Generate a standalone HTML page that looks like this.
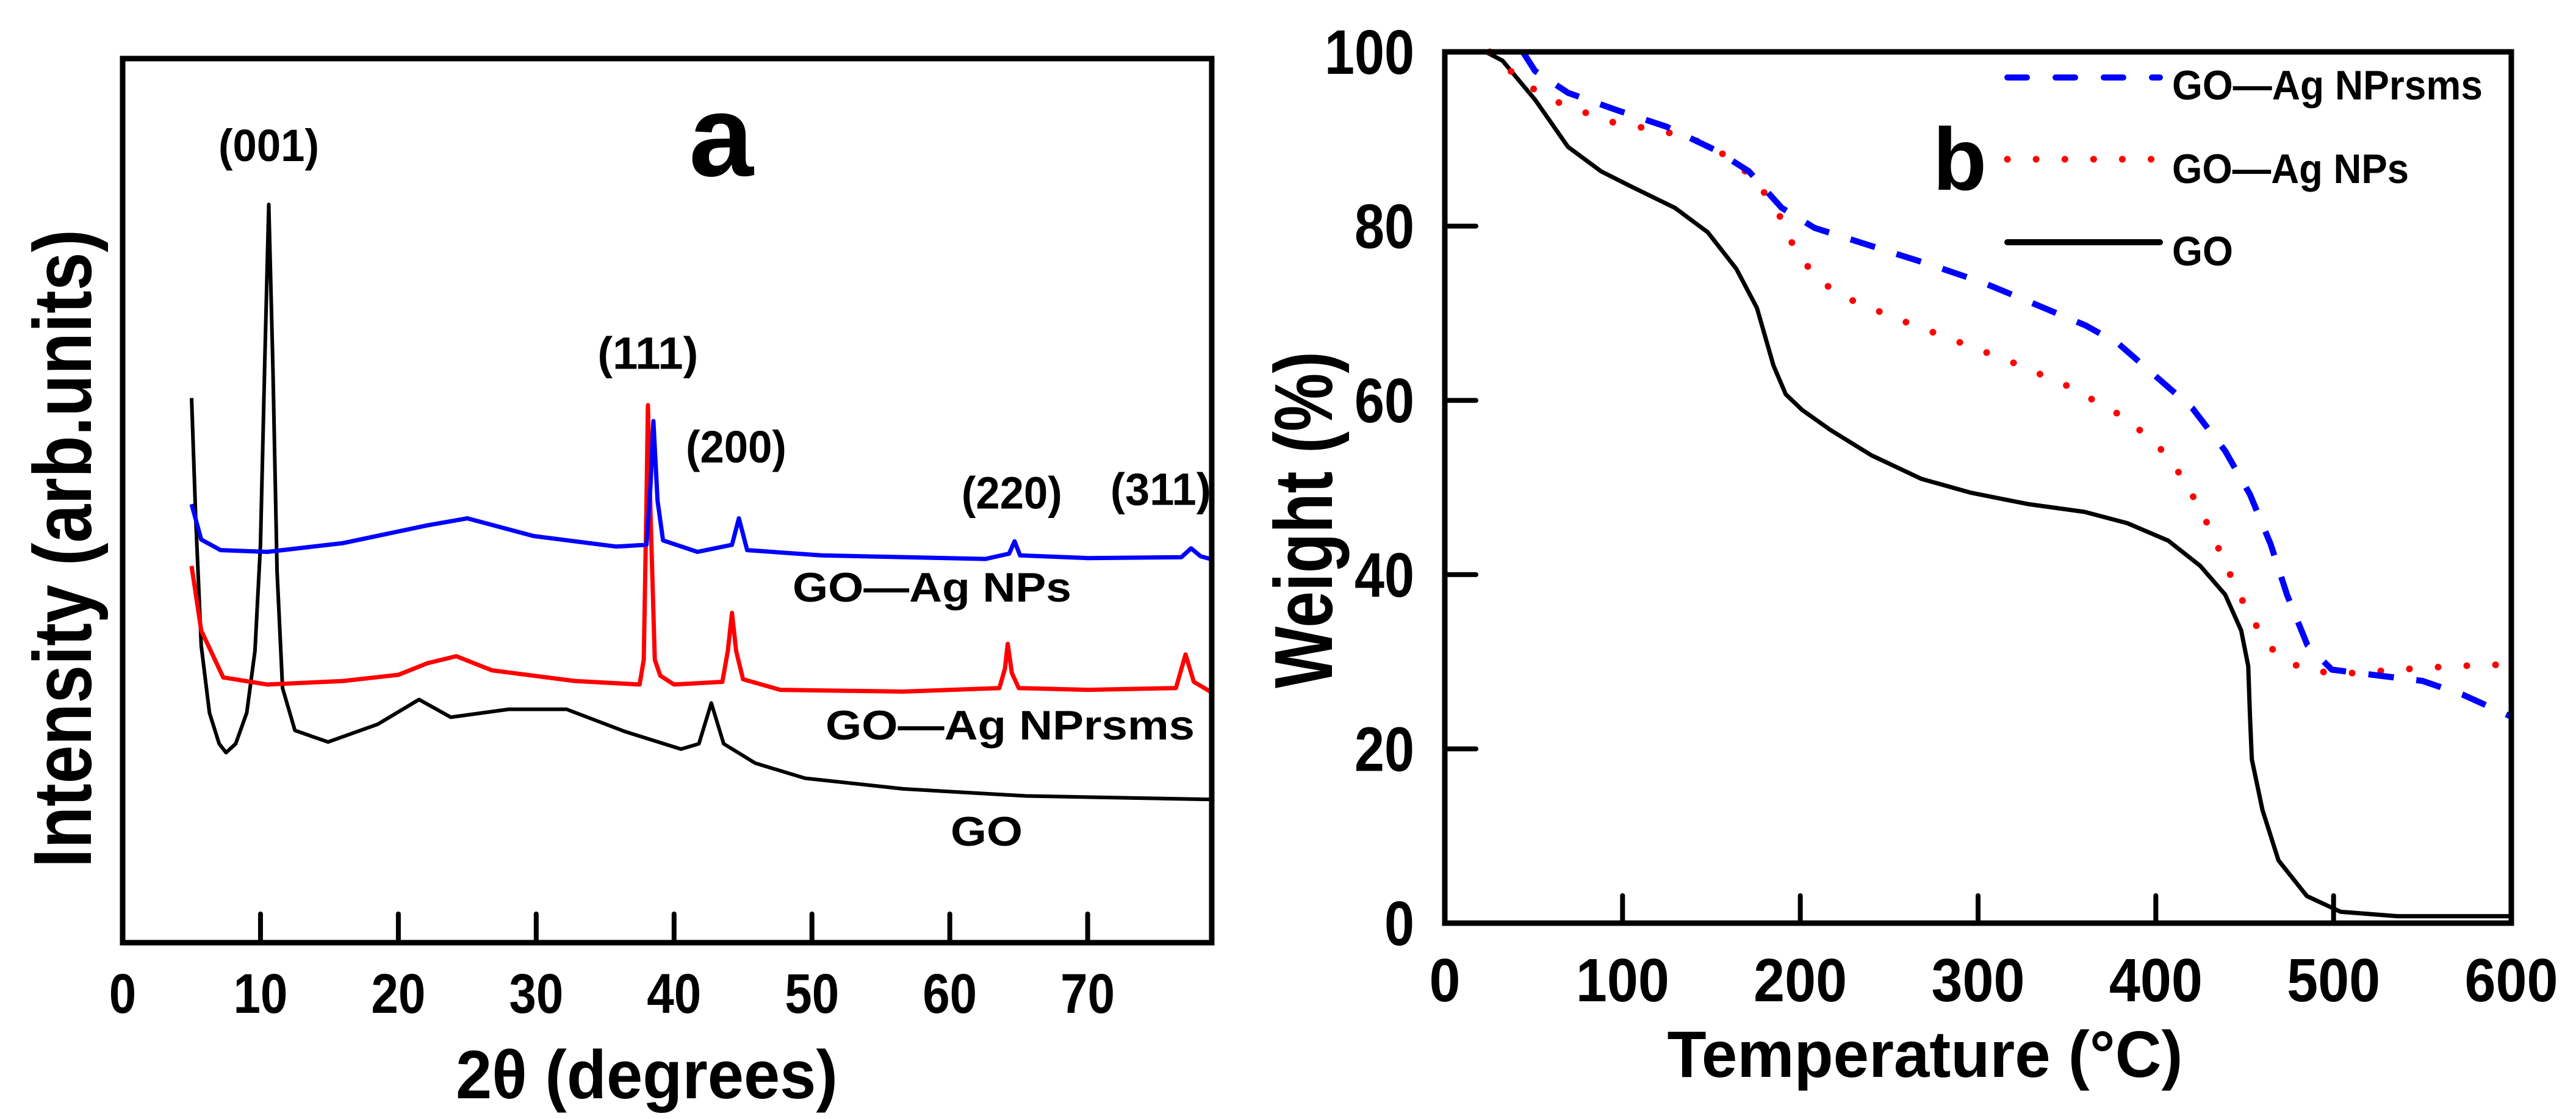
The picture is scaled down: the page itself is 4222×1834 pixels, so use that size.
<!DOCTYPE html>
<html><head><meta charset="utf-8"><title>XRD and TGA of GO and GO-Ag NPs</title>
<style>html,body{margin:0;padding:0;background:#fff}svg{display:block}text{font-family:"Liberation Sans",Arial,sans-serif;font-weight:bold;fill:#000}</style>
</head><body>
<svg id="fig" xmlns="http://www.w3.org/2000/svg" width="4222" height="1834" viewBox="0 0 4222 1834">
<rect width="4222" height="1834" fill="#fff"/>
<g id="pa"></g>
<g id="pb"></g>
</svg>
<script>
// ---- Panel a data (2θ degrees, arbitrary intensity 0-100) ----
const xrdTicks = [0,10,20,30,40,50,60,70];
const goX = [5.0,5.3,5.7,6.3,7.0,7.5,8.2,9.0,9.6,10.0,10.3,10.6,10.9,11.2,11.6,12.5,14.9,18.5,21.5,23.8,28,32.2,36.4,40.5,41.8,42.7,43.6,45.9,49.5,56.6,65.5,78.9];
const goY = [61.6,48,33.6,26,22.5,21.5,22.5,26,33,45,65,83.5,65,42,28.8,24,22.7,24.7,27.5,25.5,26.4,26.4,23.9,21.9,22.5,27.1,22.5,20.3,18.6,17.4,16.6,16.2];
const rsmsX = [5.0,5.7,7.3,10.5,16,20,22.1,24.2,26.8,32.8,37.5,37.8,38.0,38.1,38.3,38.6,39.0,40,43.5,43.9,44.2,44.5,45,47.7,56.6,63.6,64.0,64.2,64.5,65,70,76.4,77.1,77.7,78.9];
const rsmsY = [42.6,35.3,30.0,29.2,29.6,30.3,31.6,32.4,30.8,29.6,29.2,32,50,60.8,48,32,30.2,29.2,29.5,33,37.3,33,29.8,28.6,28.4,28.8,31,33.8,30.5,28.8,28.6,28.8,32.6,29.5,28.4];
const npsX = [5.0,5.7,7.1,10.5,16,22.1,25,29.8,35.8,38.0,38.3,38.5,38.8,39.2,41.7,44.2,44.7,45.3,50.7,62.6,64.3,64.7,65.1,70,76.8,77.5,78.2,78.9];
const npsY = [49.6,45.6,44.4,44.2,45.2,47.2,48.0,46.0,44.8,45,52,59.0,50,45.5,44.2,45,48.0,44.4,43.8,43.4,44,45.4,43.8,43.5,43.6,44.6,43.7,43.4];
const peakLabels = ["(001)","(111)","(200)","(220)","(311)"];
const peakPos = [10.6,38.1,44.5,64.5,75.3];
const peakInt = [90.2,66.7,56.1,50.9,51.3];

// ---- Panel b data (temperature °C, weight %) ----
const tgaXTicks = [0,100,200,300,400,500,600];
const tgaYTicks = [0,20,40,60,80,100];
const tgaGoT = [23,32.4,50.8,69.3,87.8,106.3,129.4,147.9,164,175.6,184.9,191.8,201,217,240,268,296,328,360,384,407,425,439,448,452,453,454,460,469,485,504,536,600];
const tgaGoW = [100,99,94.5,89.1,86.3,84.4,82.1,79.3,75.1,70.6,64,60.7,58.9,56.6,53.7,51,49.4,48.1,47.2,45.9,43.9,41,37.7,33.6,29.5,23.7,18.8,13,7.2,3.1,1.3,0.8,0.8];
const tgaNpsT = [25.4,43.9,60,92.4,124.8,143,161.8,175.6,187.2,196.4,208,221.8,254,286.6,318.9,351,383.6,402,416,429.9,441.4,453,466.8,483,503.8,536,568,600];
const tgaNpsW = [100,96.5,94.5,92,90.8,89.7,87.7,85,81.7,77.6,74.3,72.1,69.4,66.9,64.4,61.6,57.9,54.6,50.9,45.5,40.2,35.2,31.1,29.1,28.6,29.1,29.5,29.7];
const tgaRsmsT = [43.9,50.8,69.3,97,124.8,152.5,171,189.5,208,235.7,272.7,303,332.5,360.5,379,402,420.6,439,453,464.6,473.8,485.3,499,522,550,573,600];
const tgaRsmsW = [100,97.8,95.3,93.3,91.4,88.7,86.3,82.1,79.8,78,75.6,73.5,71,68.6,66.5,62.4,59.1,54.2,49.2,43.5,37.7,31.9,29.1,28.5,27.8,26.2,23.7];

const NS = "http://www.w3.org/2000/svg";
function mk(parent, tag, attrs){const e=document.createElementNS(NS,tag);for(const k in attrs)e.setAttribute(k,attrs[k]);parent.appendChild(e);return e;}
function txt(parent, s, attrs){const e=mk(parent,'text',attrs);e.textContent=s;return e;}

// ---------- Panel A ----------
const A = {l:201,r:1986,t:96,b:1545,xmin:0,xmax:79,ymin:0,ymax:100};
const ax = v => A.l + (v-A.xmin)/(A.xmax-A.xmin)*(A.r-A.l);
const ay = v => A.b - (v-A.ymin)/(A.ymax-A.ymin)*(A.b-A.t);
const pa = document.getElementById('pa');
function series(g, xs, ys, fx, fy, attrs, name){
  const d = xs.map((x,i)=>(i?'L':'M')+fx(x).toFixed(1)+' '+fy(ys[i]).toFixed(1)).join(' ');
  const p = mk(g,'path',Object.assign({d:d,fill:'none','stroke-linejoin':'round'},attrs));
  
  
  return p;
}
series(pa, goX, goY, ax, ay, {stroke:'#000','stroke-width':6}, 'series-go-xrd');
series(pa, rsmsX, rsmsY, ax, ay, {stroke:'#ff0000','stroke-width':7}, 'series-go-ag-nprsms-xrd');
series(pa, npsX, npsY, ax, ay, {stroke:'#0000ff','stroke-width':7}, 'series-go-ag-nps-xrd');

const fa = mk(pa,'rect',{x:A.l,y:A.t,width:A.r-A.l,height:A.b-A.t,fill:'none',stroke:'#000','stroke-width':9});


xrdTicks.forEach(v=>{
  if(v>0){const t=mk(pa,'line',{x1:ax(v),x2:ax(v),y1:A.b,y2:A.b-47,stroke:'#000','stroke-width':8,'stroke-linecap':'round'});
  
  }
  const lab = txt(pa,String(v),{x:ax(v),y:1660,'font-size':92,'text-anchor':'middle',textLength:(String(v).length*44.5),lengthAdjust:'spacingAndGlyphs'});
  
  
});
peakLabels.forEach((s,i)=>{
  const e = txt(pa,s,{x:ax(peakPos[i]),y:ay(peakInt[i])+26,'font-size':74,'text-anchor':'middle',textLength:165,lengthAdjust:'spacingAndGlyphs'});
  
  
});
</script>
<script>
// static labels for panel a
(function(){
const pa=document.getElementById('pa');
function t(s,a,name){const e=document.createElementNS("http://www.w3.org/2000/svg",'text');for(const k in a)e.setAttribute(k,a[k]);e.textContent=s;pa.appendChild(e);


}
t('a',{x:1182,y:288,'font-size':190,'text-anchor':'middle'},'panel-label-a');
t('GO—Ag NPs',{x:1299,y:986,'font-size':68,textLength:457,lengthAdjust:'spacingAndGlyphs'},'series-label-go-ag-nps');
t('GO—Ag NPrsms',{x:1353,y:1212,'font-size':68,textLength:605,lengthAdjust:'spacingAndGlyphs'},'series-label-go-ag-nprsms');
t('GO',{x:1558,y:1386,'font-size':68,textLength:118,lengthAdjust:'spacingAndGlyphs'},'series-label-go');
t('Intensity (arb.units)',{transform:'translate(149,899) rotate(-90)','font-size':135,'text-anchor':'middle',textLength:1046,lengthAdjust:'spacingAndGlyphs'},'y-axis-title-a');
t('2θ (degrees)',{x:1060,y:1800,'font-size':112,'text-anchor':'middle',textLength:626,lengthAdjust:'spacingAndGlyphs'},'x-axis-title-a');
})();
</script>
<script>
// ---------- Panel B ----------
(function(){
const NS="http://www.w3.org/2000/svg";
const B={l:2368,r:4116,t:85,b:1513,xmin:0,xmax:600,ymin:0,ymax:100};
const bx=v=>B.l+(v-B.xmin)/(B.xmax-B.xmin)*(B.r-B.l);
const by=v=>B.b-(v-B.ymin)/(B.ymax-B.ymin)*(B.b-B.t);
const pb=document.getElementById('pb');
function mk(tag,a){const e=document.createElementNS(NS,tag);for(const k in a)e.setAttribute(k,a[k]);pb.appendChild(e);return e;}
function path(xs,ys,a){return mk('path',Object.assign({d:xs.map((x,i)=>(i?'L':'M')+bx(x).toFixed(1)+' '+by(ys[i]).toFixed(1)).join(' '),fill:'none','stroke-linejoin':'round'},a));}
const g1=path(tgaGoT,tgaGoW,{stroke:'#000','stroke-width':7});


const g2=path(tgaNpsT,tgaNpsW,{stroke:'#ff0000','stroke-width':11,'stroke-linecap':'round','stroke-dasharray':'0.1 47'});


const g3=path(tgaRsmsT,tgaRsmsW,{stroke:'#0000ff','stroke-width':10,'stroke-dasharray':'42 37'});


const f=mk('rect',{x:B.l,y:B.t,width:B.r-B.l,height:B.b-B.t,fill:'none',stroke:'#000','stroke-width':9});


tgaXTicks.forEach(v=>{
  if(v>0&&v<600){const t=mk('line',{x1:bx(v),x2:bx(v),y1:B.b,y2:B.b-45,stroke:'#000','stroke-width':8,'stroke-linecap':'round'});
  
  }
  const s=String(v);const e=mk('text',{x:bx(v),y:1641,'font-size':100,'text-anchor':'middle',textLength:s.length*51,lengthAdjust:'spacingAndGlyphs'});e.textContent=s;
  
  
});
tgaYTicks.forEach(v=>{
  if(v>0&&v<100){const t=mk('line',{x1:B.l,x2:B.l+51,y1:by(v),y2:by(v),stroke:'#000','stroke-width':8,'stroke-linecap':'round'});
  
  }
  const s=String(v);const e=mk('text',{x:2318,y:by(v)+36,'font-size':103,'text-anchor':'end',textLength:s.length*49,lengthAdjust:'spacingAndGlyphs'});e.textContent=s;
  
  
});
function T(s,a,name){const e=mk('text',a);e.textContent=s;

}
T('b',{x:3212,y:311,'font-size':145,'text-anchor':'middle'},'panel-label-b');
T('Temperature (°C)',{x:3155,y:1765,'font-size':108,'text-anchor':'middle',textLength:845,lengthAdjust:'spacingAndGlyphs'},'x-axis-title-b');
T('Weight (%)',{transform:'translate(2183,852) rotate(-90)','font-size':135,'text-anchor':'middle',textLength:552,lengthAdjust:'spacingAndGlyphs'},'y-axis-title-b');
// legend
const l1=mk('line',{x1:3290,x2:3540,y1:127,y2:127,stroke:'#0000ff','stroke-width':10,'stroke-linecap':'round','stroke-dasharray':'32 47'});


const l2=mk('line',{x1:3290,x2:3540,y1:261,y2:261,stroke:'#ff0000','stroke-width':11,'stroke-linecap':'round','stroke-dasharray':'0.1 47'});


const l3=mk('line',{x1:3290,x2:3540,y1:397,y2:397,stroke:'#000','stroke-width':10,'stroke-linecap':'round'});


T('GO—Ag NPrsms',{x:3560,y:163,'font-size':68,textLength:509,lengthAdjust:'spacingAndGlyphs'},'legend-label-go-ag-nprsms');
T('GO—Ag NPs',{x:3560,y:300,'font-size':68,textLength:388,lengthAdjust:'spacingAndGlyphs'},'legend-label-go-ag-nps');
T('GO',{x:3560,y:435,'font-size':68,textLength:100,lengthAdjust:'spacingAndGlyphs'},'legend-label-go');
})();
</script>
</body></html>
